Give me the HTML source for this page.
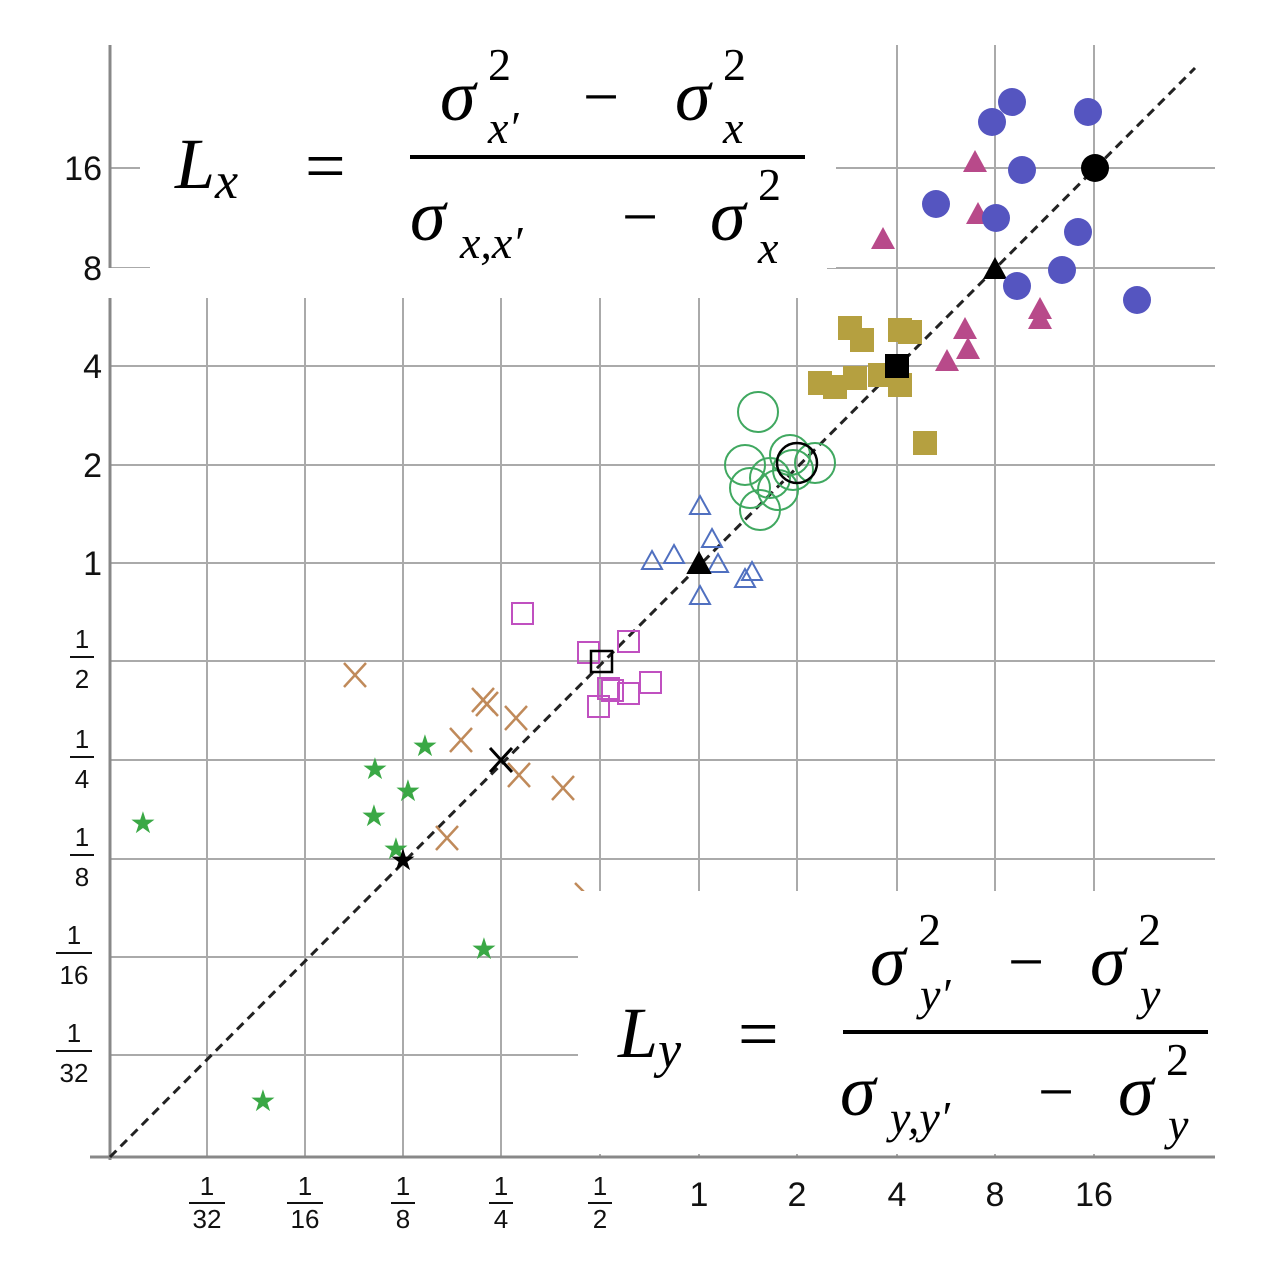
<!DOCTYPE html>
<html><head><meta charset="utf-8"><style>
html,body{margin:0;padding:0;background:#fff;width:1274px;height:1276px;overflow:hidden}
.m{font-family:"Liberation Serif",serif;font-style:italic}
</style></head><body>
<svg width="1274" height="1276" xmlns="http://www.w3.org/2000/svg" style="position:absolute;left:0;top:0">
<g stroke="#aaa" stroke-width="2">
<line x1="207" y1="45" x2="207" y2="1157"/><line x1="305" y1="45" x2="305" y2="1157"/><line x1="403" y1="45" x2="403" y2="1157"/><line x1="501" y1="45" x2="501" y2="1157"/><line x1="600" y1="45" x2="600" y2="1157"/><line x1="699" y1="45" x2="699" y2="1157"/><line x1="797" y1="45" x2="797" y2="1157"/><line x1="897" y1="45" x2="897" y2="1157"/><line x1="995" y1="45" x2="995" y2="1157"/><line x1="1094" y1="45" x2="1094" y2="1157"/>
<line x1="110" y1="168" x2="1215" y2="168"/><line x1="110" y1="268" x2="1215" y2="268"/><line x1="110" y1="366" x2="1215" y2="366"/><line x1="110" y1="465" x2="1215" y2="465"/><line x1="110" y1="563" x2="1215" y2="563"/><line x1="110" y1="661" x2="1215" y2="661"/><line x1="110" y1="760" x2="1215" y2="760"/><line x1="110" y1="859" x2="1215" y2="859"/><line x1="110" y1="957" x2="1215" y2="957"/><line x1="110" y1="1055" x2="1215" y2="1055"/>
</g>
<g stroke="#888" stroke-width="3"><line x1="110" y1="45" x2="110" y2="1160"/><line x1="90" y1="1157" x2="1215" y2="1157"/></g>
<line x1="110" y1="1157" x2="1195" y2="68" stroke="#222" stroke-width="3" stroke-dasharray="9,6"/>
<!-- stars -->
<g fill="#3aa845" font-family="DejaVu Sans" font-size="30" text-anchor="middle">
<text x="143" y="833">★</text><text x="375" y="779">★</text><text x="374" y="826">★</text><text x="408" y="801">★</text><text x="425" y="756">★</text><text x="396" y="859">★</text><text x="484" y="959">★</text><text x="263" y="1111">★</text>
<text x="403" y="870" fill="#000">★</text></g>
<!-- X -->
<g stroke="#c08a5a" stroke-width="2.5" fill="none">
<path d="M344 663l22 24M366 663l-22 24"/><path d="M472 688l22 24M494 688l-22 24"/><path d="M476 692l22 24M498 692l-22 24"/><path d="M450 728l22 24M472 728l-22 24"/><path d="M505 706l22 24M527 706l-22 24"/><path d="M508 763l22 24M530 763l-22 24"/><path d="M552 776l22 24M574 776l-22 24"/><path d="M436 826l22 24M458 826l-22 24"/><path d="M575 883l14 14"/>
<path d="M490 748l22 24M512 748l-22 24" stroke="#000" stroke-width="3"/></g>
<!-- open squares -->
<g stroke="#c050c0" stroke-width="2" fill="none">
<rect x="512" y="603" width="21" height="21"/><rect x="578" y="642" width="21" height="21"/><rect x="618" y="631" width="21" height="21"/><rect x="598" y="678" width="21" height="21"/><rect x="588" y="696" width="21" height="21"/><rect x="602" y="680" width="21" height="21"/><rect x="618" y="683" width="21" height="21"/><rect x="640" y="672" width="21" height="21"/>
<rect x="591" y="651" width="21" height="21" stroke="#000" stroke-width="2.5"/></g>
<!-- open triangles -->
<g stroke="#5070c0" stroke-width="2" fill="none">
<path d="M652 551l10 18h-20z"/><path d="M674 545l10 18h-20z"/><path d="M700 496l10 18h-20z"/><path d="M712 529l10 18h-20z"/><path d="M718 554l10 18h-20z"/><path d="M700 586l10 18h-20z"/><path d="M745 569l10 18h-20z"/><path d="M752 562l10 18h-20z"/>
<path d="M699 553l11 20h-22z" fill="#000" stroke="#000"/></g>
<!-- open circles -->
<g stroke="#40a860" stroke-width="2" fill="none">
<circle cx="758" cy="412" r="20"/><circle cx="750" cy="488" r="20"/><circle cx="760" cy="510" r="20"/><circle cx="770" cy="478" r="20"/><circle cx="793" cy="470" r="20"/><circle cx="815" cy="463" r="20"/><circle cx="790" cy="455" r="20"/><circle cx="778" cy="490" r="20"/><circle cx="745" cy="465" r="20"/>
<circle cx="797" cy="463" r="20" stroke="#000" stroke-width="2.5"/></g>
<!-- olive squares -->
<g fill="#b5a040">
<rect x="838" y="316" width="24" height="24"/><rect x="850" y="328" width="24" height="24"/><rect x="888" y="318" width="24" height="24"/><rect x="898" y="320" width="24" height="24"/><rect x="808" y="371" width="24" height="24"/><rect x="823" y="375" width="24" height="24"/><rect x="843" y="366" width="24" height="24"/><rect x="868" y="363" width="24" height="24"/><rect x="888" y="373" width="24" height="24"/><rect x="913" y="431" width="24" height="24"/>
<rect x="885" y="354" width="24" height="24" fill="#000"/></g>
<!-- filled triangles -->
<g fill="#b84a8a">
<path d="M975 150l12 22h-24z"/><path d="M978 202l12 22h-24z"/><path d="M883 227l12 22h-24z"/><path d="M1040 297l12 22h-24z"/><path d="M1040 307l12 22h-24z"/><path d="M965 317l12 22h-24z"/><path d="M968 337l12 22h-24z"/><path d="M947 349l12 22h-24z"/>
<path d="M995 257l12 22h-24z" fill="#000"/></g>
<!-- blue circles -->
<g fill="#5555c0">
<circle cx="1012" cy="102" r="14"/><circle cx="992" cy="122" r="14"/><circle cx="1088" cy="112" r="14"/><circle cx="1022" cy="170" r="14"/><circle cx="936" cy="204" r="14"/><circle cx="996" cy="218" r="14"/><circle cx="1078" cy="232" r="14"/><circle cx="1062" cy="270" r="14"/><circle cx="1017" cy="286" r="14"/><circle cx="1137" cy="300" r="14"/>
<circle cx="1095" cy="168" r="14" fill="#000"/></g>
<!-- white boxes -->
<rect x="150" y="30" width="686" height="238" fill="#fff"/>
<rect x="55" y="268" width="772" height="30" fill="#fff"/>
<rect x="140" y="150" width="20" height="40" fill="#fff"/>
<rect x="578" y="891" width="640" height="263" fill="#fff"/>
<rect x="0" y="0" width="1274" height="44" fill="#fff"/>
<!-- axis labels -->
<g font-family="Liberation Sans,sans-serif" font-size="34" fill="#111" text-anchor="end">
<text x="102" y="180">16</text><text x="102" y="280">8</text><text x="102" y="378">4</text><text x="102" y="477">2</text><text x="102" y="575">1</text></g>
<g font-family="Liberation Sans,sans-serif" font-size="34" fill="#111" text-anchor="middle">
<text x="699" y="1206">1</text><text x="797" y="1206">2</text><text x="897" y="1206">4</text><text x="995" y="1206">8</text><text x="1094" y="1206">16</text></g>
<g font-family="Liberation Sans,sans-serif" font-size="26" fill="#111" text-anchor="middle">
<text x="82" y="648">1</text><line x1="70" y1="657" x2="94" y2="657" stroke="#111" stroke-width="2"/><text x="82" y="688">2</text>
<text x="82" y="748">1</text><line x1="70" y1="757" x2="94" y2="757" stroke="#111" stroke-width="2"/><text x="82" y="788">4</text>
<text x="82" y="846">1</text><line x1="70" y1="855" x2="94" y2="855" stroke="#111" stroke-width="2"/><text x="82" y="886">8</text>
<text x="74" y="944">1</text><line x1="56" y1="953" x2="92" y2="953" stroke="#111" stroke-width="2"/><text x="74" y="984">16</text>
<text x="74" y="1042">1</text><line x1="56" y1="1051" x2="92" y2="1051" stroke="#111" stroke-width="2"/><text x="74" y="1082">32</text>
<text x="207" y="1195">1</text><line x1="189" y1="1203" x2="225" y2="1203" stroke="#111" stroke-width="2"/><text x="207" y="1228">32</text>
<text x="305" y="1195">1</text><line x1="287" y1="1203" x2="323" y2="1203" stroke="#111" stroke-width="2"/><text x="305" y="1228">16</text>
<text x="403" y="1195">1</text><line x1="391" y1="1203" x2="415" y2="1203" stroke="#111" stroke-width="2"/><text x="403" y="1228">8</text>
<text x="501" y="1195">1</text><line x1="489" y1="1203" x2="513" y2="1203" stroke="#111" stroke-width="2"/><text x="501" y="1228">4</text>
<text x="600" y="1195">1</text><line x1="588" y1="1203" x2="612" y2="1203" stroke="#111" stroke-width="2"/><text x="600" y="1228">2</text></g>
<!-- formulas -->
<g class="m" fill="#000">
<text x="175" y="188" font-size="72">L<tspan font-size="52" dy="10">x</tspan></text>
<text x="305" y="190" font-size="72" font-style="normal">=</text>
<line x1="410" y1="157" x2="805" y2="157" stroke="#000" stroke-width="4"/>
<text x="440" y="120" font-size="72">σ</text><text x="488" y="80" font-size="46" font-style="normal">2</text><text x="488" y="143" font-size="46">x′</text>
<text x="583" y="118" font-size="64" font-style="normal">−</text>
<text x="675" y="120" font-size="72">σ</text><text x="723" y="80" font-size="46" font-style="normal">2</text><text x="723" y="143" font-size="46">x</text>
<text x="410" y="240" font-size="72">σ</text><text x="460" y="258" font-size="46">x,x′</text>
<text x="622" y="238" font-size="64" font-style="normal">−</text>
<text x="710" y="240" font-size="72">σ</text><text x="758" y="200" font-size="46" font-style="normal">2</text><text x="758" y="263" font-size="46">x</text>

<text x="618" y="1057" font-size="72">L<tspan font-size="52" dy="10">y</tspan></text>
<text x="738" y="1058" font-size="72" font-style="normal">=</text>
<line x1="843" y1="1032" x2="1208" y2="1032" stroke="#000" stroke-width="4"/>
<text x="870" y="985" font-size="72">σ</text><text x="918" y="945" font-size="46" font-style="normal">2</text><text x="920" y="1010" font-size="46">y′</text>
<text x="1008" y="983" font-size="64" font-style="normal">−</text>
<text x="1090" y="985" font-size="72">σ</text><text x="1138" y="945" font-size="46" font-style="normal">2</text><text x="1140" y="1010" font-size="46">y</text>
<text x="840" y="1115" font-size="72">σ</text><text x="890" y="1133" font-size="46">y,y′</text>
<text x="1038" y="1113" font-size="64" font-style="normal">−</text>
<text x="1118" y="1115" font-size="72">σ</text><text x="1166" y="1075" font-size="46" font-style="normal">2</text><text x="1168" y="1140" font-size="46">y</text>
</g>
</svg>
</body></html>
